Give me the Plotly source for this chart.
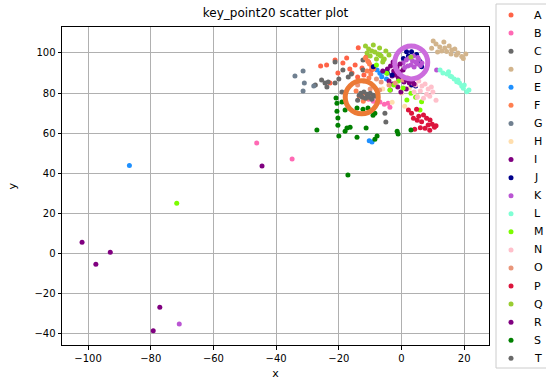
import plotly.graph_objects as go

# ---------------- data ----------------
group_names = ["A", "B", "C", "D", "E", "F", "G", "H", "I", "J",
               "K", "L", "M", "N", "O", "P", "Q", "R", "S", "T"]
group_colors = ["#FF6347", "#FF69B4", "#696969", "#D2B48C", "#1E90FF",
                "#FF7F50", "#708090", "#FFDEAD", "#800080", "#00008B",
                "#BA55D3", "#7FFFD4", "#7CFC00", "#FFC0CB", "#E9967A",
                "#DC143C", "#9ACD32", "#800080", "#008000", "#696969"]

A_x = [-25.8, -23.9, -21.2, -18.7, -15.8, -14.8, -13.8, -12.6, -11.3, -10.5, -9.6, -20.3, -16.5, -22.8, -17.5, -12.0, -8.8, -14.0]
A_y = [93.5, 94.0, 96.5, 95.0, 90.0, 94.0, 102.6, 92.5, 98.0, 95.5, 91.5, 90.0, 92.0, 85.0, 97.5, 89.0, 93.0, 88.0]
B_x = [-46.2, -34.9, -6.9, -4.3, -3.7, -5.5, -10.5, -9.0]
B_y = [55.2, 47.2, 75.6, 75.0, 73.0, 74.5, 77.0, 76.0]
C_x = [-24.4, -23.4, -23.8, -21.2, -21.2, -18.7, -17.0, -12.3, -12.3, -25.5, -20.0, -16.0, -27.5, -19.0]
C_y = [85.0, 85.5, 83.0, 85.0, 95.5, 91.5, 88.0, 91.5, 96.5, 86.5, 87.0, 89.5, 84.0, 80.5]
D_x = [10.1, 9.6, 11.0, 12.2, 13.5, 14.4, 15.2, 16.0, 17.0, 18.0, 19.2, 19.7, 12.8, 15.8, 11.5, 17.5, 13.8, 20.5]
D_y = [106.0, 102.3, 104.5, 103.0, 105.5, 100.7, 103.5, 101.5, 102.0, 100.0, 98.2, 97.3, 101.0, 99.5, 100.5, 99.0, 102.5, 99.5]
E_x = [-86.8, -6.9, -6.3, -5.5, -7.8, -4.8, -9.4, -10.3]
E_y = [44.0, 89.9, 88.2, 90.5, 91.5, 87.0, 55.7, 56.3]
F_x = [-11.5, -10.8, -10.2, -9.5, -11.0, -9.8, -8.9, -10.4, -12.0, -13.5, -12.2, -11.0, -9.6, -14.5]
F_y = [97.5, 96.0, 94.5, 93.0, 91.0, 89.5, 92.0, 87.5, 80.0, 78.5, 76.0, 77.5, 79.0, 81.0]
G_x = [-34.0, -31.4, -31.0, -31.4, -28.0]
G_y = [88.5, 91.0, 85.0, 81.0, 83.5]
H_x = [-3.0, 0.0, 2.5, 5.0, -6.0, 1.0]
H_y = [75.5, 80.0, 82.5, 78.5, 82.0, 73.5]
I_x = [-4.5, -3.5, -2.5, -1.5, -0.5, 0.5, -3.0, -2.0, -1.0, 0.0, -4.0, -2.8, -1.2, 0.8, -3.6, 1.5, -0.2, -44.5]
I_y = [92.0, 93.5, 91.0, 92.5, 90.5, 91.5, 88.5, 89.0, 87.5, 88.0, 86.0, 84.5, 83.0, 85.5, 81.5, 82.0, 80.5, 43.7]
J_x = [3.2, 0.6, 5.9, 6.4, 3.2, 4.5, -9.0, 1.6, -4.5, -3.0, 2.2, 4.8]
J_y = [100.6, 97.3, 95.7, 93.2, 84.1, 83.5, 93.2, 100.6, 90.0, 89.0, 98.5, 99.2]
K_x = [0.5, 1.5, 2.5, 3.5, 4.5, 5.5, 6.5, 2.0, 3.0, 4.0, 5.0, 6.0, 1.0, 3.8, 5.2, 11.2, -70.9]
K_y = [95.0, 96.5, 97.5, 96.0, 95.5, 96.8, 95.0, 93.5, 94.0, 93.0, 94.5, 93.8, 92.8, 98.5, 97.8, 91.5, -35.0]
L_x = [12.3, 13.2, 14.5, 15.5, 16.0, 16.8, 17.6, 18.5, 19.2, 19.7, 20.8, 21.5, 18.0, 20.0, 15.0]
L_y = [91.5, 90.0, 89.5, 88.5, 88.2, 87.0, 85.7, 85.0, 83.5, 82.4, 80.7, 81.5, 86.5, 84.0, 90.7]
M_x = [-3.7, 1.7, 6.4, 5.9, -4.7, -6.9, -2.5, 0.5, 3.0, -5.8, -1.0, 4.5, -8.0, -71.7]
M_y = [81.6, 76.6, 75.7, 71.6, 89.9, 99.0, 84.0, 82.5, 80.0, 96.5, 86.0, 78.0, 94.0, 25.1]
N_x = [3.5, 4.5, 5.5, 6.5, 7.5, 8.5, 9.5, 4.0, 6.0, 8.0, 10.0, 5.0, 7.0, 9.0, 11.0]
N_y = [85.0, 84.0, 86.0, 83.5, 84.5, 82.0, 83.0, 80.5, 81.0, 79.5, 80.5, 78.0, 77.5, 78.5, 76.5]
O_x = [-14.0, -12.0, -8.0, -6.5, -4.0, -2.0, 0.5, -10.0, -7.0, 2.0]
O_y = [84.0, 86.0, 87.0, 85.5, 84.0, 85.0, 86.5, 82.0, 81.5, 87.5]
P_x = [2.2, 3.2, 4.8, 5.5, 7.0, 8.0, 9.1, 9.8, 8.5, 6.4, 5.0, 3.8, 10.5, 11.0, 7.5, 4.2, 6.0, 9.0]
P_y = [71.6, 70.0, 72.0, 68.5, 69.1, 67.5, 66.6, 64.5, 64.1, 65.8, 66.5, 67.5, 63.0, 63.8, 62.5, 62.0, 62.8, 61.5]
Q_x = [-11.5, -10.5, -9.5, -8.5, -7.5, -6.5, -5.5, -10.0, -8.0, -6.0, -9.0, -7.0, -5.0, -4.0, -11.0, 3.0]
Q_y = [103.5, 102.0, 101.0, 100.5, 99.5, 98.5, 97.0, 98.5, 97.0, 95.5, 104.0, 102.5, 101.0, 99.0, 100.0, 98.0]
R_x = [-101.9, -97.5, -92.9, -77.1, -79.2, -2.7, -1.5, -0.5, 1.5, 2.5, 3.5, 4.0, -6.0]
R_y = [5.7, -5.3, 0.7, -26.7, -38.4, 95.5, 93.0, 94.5, 86.5, 85.0, 86.0, 84.5, 91.0]
S_x = [-27.0, -20.0, -18.0, -17.4, -16.4, -14.2, -11.3, -8.5, -7.8, -1.4, -1.1, 3.0, -20.3, -20.3, -20.6, -18.0, -19.0, -20.6, -12.3, -8.5, -17.1, -20.9, -14.2, -10.7, -9.1]
S_y = [61.6, 58.6, 61.0, 62.6, 63.0, 58.0, 62.6, 57.0, 58.6, 61.0, 59.6, 61.6, 64.0, 67.6, 71.0, 71.6, 75.6, 75.0, 72.0, 70.0, 39.2, 77.6, 72.6, 72.6, 69.0]
T_x = [-13.0, -12.0, -11.0, -10.0, -9.0, -12.5, -11.5, -10.5, -9.5, -8.5, -14.0, -13.5, -5.3, -5.0]
T_y = [80.0, 80.5, 79.5, 80.0, 79.0, 78.0, 77.5, 78.0, 77.0, 78.5, 76.5, 79.0, 70.0, 65.6]

# highlighted key points (large rings)
highlight_x = [-12.7, 3.1]
highlight_y = [77.9, 95.3]
highlight_colors = ["#EC7A35", "#CC6CDD"]

group_xs = [A_x, B_x, C_x, D_x, E_x, F_x, G_x, H_x, I_x, J_x,
            K_x, L_x, M_x, N_x, O_x, P_x, Q_x, R_x, S_x, T_x]
group_ys = [A_y, B_y, C_y, D_y, E_y, F_y, G_y, H_y, I_y, J_y,
            K_y, L_y, M_y, N_y, O_y, P_y, Q_y, R_y, S_y, T_y]

x_ticks = [-100, -80, -60, -40, -20, 0, 20]
y_ticks = [-40, -20, 0, 20, 40, 60, 80, 100]

FONT = "DejaVu Sans"
W, H = 546, 380

fig = go.Figure()

for name, col, xs, ys in zip(group_names, group_colors, group_xs, group_ys):
    fig.add_trace(go.Scatter(x=xs, y=ys, mode="markers", name=name,
                             marker=dict(color=col, size=5, line=dict(width=0)),
                             showlegend=False, xaxis="x", yaxis="y"))

for hx, hy, hc in zip(highlight_x, highlight_y, highlight_colors):
    fig.add_trace(go.Scatter(x=[hx], y=[hy], mode="markers", showlegend=False,
                             marker=dict(symbol="circle-open", size=33, color=hc,
                                         line=dict(width=5, color=hc)),
                             xaxis="x", yaxis="y"))

# hand-built legend on its own small axis
leg_idx = list(range(len(group_names)))
fig.add_trace(go.Scatter(x=[15] * len(group_names), y=leg_idx, mode="markers",
                         marker=dict(color=group_colors, size=5, line=dict(width=0)),
                         showlegend=False, xaxis="x2", yaxis="y2", hoverinfo="skip"))
for i, name in enumerate(group_names):
    fig.add_annotation(x=35.5, y=i, xref="x2", yref="y2", text=name, showarrow=False,
                       xanchor="left", yanchor="middle",
                       font=dict(family=FONT, size=11, color="#000000"))

# layout geometry (pixels)
l, r, t, b = 62, 0, 4, 12
pw, ph = W - l - r, H - t - b
plot_left, plot_right, plot_top, plot_bottom = 62, 489, 27.3, 345
leg_left = 496
step = 18.07
first = 15

fig.add_shape(type="rect", xref="paper", yref="paper",
              x0=(leg_left - l) / pw, x1=1.05, y0=0, y1=1,
              line=dict(color="#cccccc", width=1), fillcolor="white", layer="below")

axis_common = dict(showgrid=True, gridcolor="#b0b0b0", gridwidth=1,
                   zeroline=False, showline=True, linecolor="#000000", linewidth=1,
                   mirror=True, ticks="outside", ticklen=3.5, tickwidth=1,
                   tickcolor="#000000", automargin=False,
                   tickfont=dict(family=FONT, size=10, color="#000000"))

fig.update_layout(
    width=W, height=H,
    margin=dict(l=l, r=r, t=t, b=b, pad=0, autoexpand=False),
    paper_bgcolor="white", plot_bgcolor="white",
    title=dict(text="key_point20 scatter plot", x=275.5 / W, xref="container",
               xanchor="center", y=1 - 13 / H, yref="container", yanchor="middle",
               font=dict(family=FONT, size=12, color="#000000")),
    xaxis=dict(domain=[0, (plot_right - l) / pw], range=[-108.3, 27.9],
               tickvals=x_ticks, anchor="y",
               title=dict(text="x", standoff=7, font=dict(family=FONT, size=11, color="#000000")),
               **axis_common),
    yaxis=dict(domain=[(H - b - plot_bottom) / ph, 1 - (plot_top - t) / ph],
               range=[-45.5, 112.8], tickvals=y_ticks, anchor="x",
               title=dict(text="y", standoff=15, font=dict(family=FONT, size=11, color="#000000")),
               **axis_common),
    xaxis2=dict(domain=[(leg_left - l) / pw, 1], range=[0, 50], visible=False,
                anchor="y2", fixedrange=True),
    yaxis2=dict(domain=[0, 1], range=[(H - b - first) / step, -(first - t) / step],
                visible=False, anchor="x2", fixedrange=True),
    showlegend=False,
)

fig.write_html("out.html",
               config={"displayModeBar": False, "staticPlot": True},
               post_script="document.body.style.margin='0px';document.body.style.overflow='hidden';")
